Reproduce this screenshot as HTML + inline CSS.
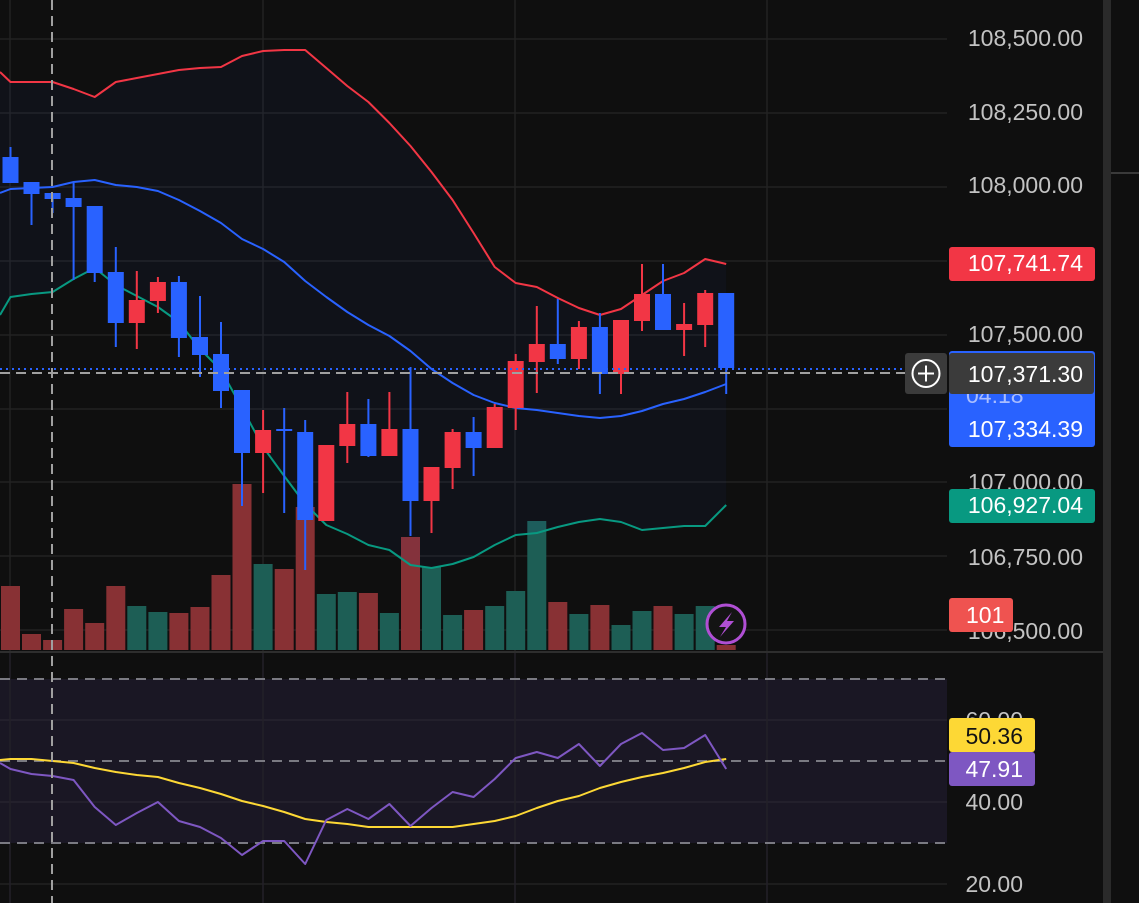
<!DOCTYPE html>
<html><head><meta charset="utf-8"><style>
html,body{margin:0;padding:0;background:#0f0f0f;}
svg{display:block;}
text{font-family:"Liberation Sans",sans-serif;font-size:23px;}
</style></head><body>
<svg width="1139" height="903" viewBox="0 0 1139 903" xmlns="http://www.w3.org/2000/svg">
<rect x="0" y="0" width="1139" height="903" fill="#0f0f0f"/>
<!-- grid main -->
<g stroke="#222" stroke-width="1.5">
<line x1="0" y1="39" x2="947" y2="39"/><line x1="0" y1="113" x2="947" y2="113"/><line x1="0" y1="187" x2="947" y2="187"/><line x1="0" y1="261" x2="947" y2="261"/><line x1="0" y1="335" x2="947" y2="335"/><line x1="0" y1="409" x2="947" y2="409"/><line x1="0" y1="482" x2="947" y2="482"/><line x1="0" y1="556" x2="947" y2="556"/><line x1="0" y1="630" x2="947" y2="630"/>
<line x1="10" y1="0" x2="10" y2="651"/><line x1="263" y1="0" x2="263" y2="651"/><line x1="515" y1="0" x2="515" y2="651"/><line x1="767" y1="0" x2="767" y2="651"/>
</g>
<!-- volume -->
<g>
<rect x="1" y="586" width="19" height="64" fill="#883134"/>
<rect x="22" y="634" width="19" height="16" fill="#883134"/>
<rect x="43.1" y="640" width="19" height="10" fill="#883134"/>
<rect x="64.1" y="609" width="19" height="41" fill="#883134"/>
<rect x="85.2" y="623" width="19" height="27" fill="#883134"/>
<rect x="106.3" y="586" width="19" height="64" fill="#883134"/>
<rect x="127.3" y="606" width="19" height="44" fill="#1d5e55"/>
<rect x="148.4" y="612" width="19" height="38" fill="#1d5e55"/>
<rect x="169.4" y="613" width="19" height="37" fill="#883134"/>
<rect x="190.5" y="607" width="19" height="43" fill="#883134"/>
<rect x="211.5" y="575" width="19" height="75" fill="#883134"/>
<rect x="232.5" y="484" width="19" height="166" fill="#883134"/>
<rect x="253.6" y="564" width="19" height="86" fill="#1d5e55"/>
<rect x="274.7" y="569" width="19" height="81" fill="#883134"/>
<rect x="295.7" y="507" width="19" height="143" fill="#883134"/>
<rect x="316.8" y="594" width="19" height="56" fill="#1d5e55"/>
<rect x="337.8" y="592" width="19" height="58" fill="#1d5e55"/>
<rect x="358.9" y="593" width="19" height="57" fill="#883134"/>
<rect x="379.9" y="613" width="19" height="37" fill="#1d5e55"/>
<rect x="401" y="537" width="19" height="113" fill="#883134"/>
<rect x="422" y="567" width="19" height="83" fill="#1d5e55"/>
<rect x="443.1" y="615" width="19" height="35" fill="#1d5e55"/>
<rect x="464.1" y="610" width="19" height="40" fill="#883134"/>
<rect x="485.2" y="606" width="19" height="44" fill="#1d5e55"/>
<rect x="506.2" y="591" width="19" height="59" fill="#1d5e55"/>
<rect x="527.3" y="521" width="19" height="129" fill="#1d5e55"/>
<rect x="548.3" y="602" width="19" height="48" fill="#883134"/>
<rect x="569.4" y="614" width="19" height="36" fill="#1d5e55"/>
<rect x="590.4" y="605" width="19" height="45" fill="#883134"/>
<rect x="611.5" y="625" width="19" height="25" fill="#1d5e55"/>
<rect x="632.5" y="611" width="19" height="39" fill="#1d5e55"/>
<rect x="653.5" y="606" width="19" height="44" fill="#883134"/>
<rect x="674.6" y="614" width="19" height="36" fill="#1d5e55"/>
<rect x="695.7" y="606" width="19" height="44" fill="#1d5e55"/>
<rect x="716.7" y="645" width="19" height="5" fill="#883134"/>
</g>
<!-- band fill -->
<polygon fill="rgba(41,98,255,0.045)" points="0,72 10.5,82 31.5,82 52.6,82 73.6,89 94.7,97 115.8,82 136.8,78 157.9,74 178.9,70 200,68 221,67 242,56 263.1,51 284.2,50 305.2,50 326.3,68 347.3,86 368.4,102 389.4,123 410.5,146 431.5,172 452.6,200 473.6,233 494.7,267 515.7,283 536.8,287 557.8,298 578.9,308 599.9,315 621,309 642,295 663,281 684.1,273 705.2,259 726.2,264 726.2,505 705.2,526 684.1,526 663,528 642,530 621,522 599.9,519 578.9,522 557.8,527 536.8,533 515.7,535 494.7,545 473.6,557 452.6,564 431.5,568 410.5,565 389.4,550 368.4,545 347.3,534 326.3,525 305.2,504 284.2,476 263.1,447 242,408 221,370 200,349 178.9,322 157.9,307 136.8,296 115.8,285 94.7,268 73.6,279 52.6,292 31.5,294 10.5,297 0,315"/>
<g fill="none" stroke-width="2" stroke-linejoin="round">
<polyline stroke="#f23645" points="0,72 10.5,82 31.5,82 52.6,82 73.6,89 94.7,97 115.8,82 136.8,78 157.9,74 178.9,70 200,68 221,67 242,56 263.1,51 284.2,50 305.2,50 326.3,68 347.3,86 368.4,102 389.4,123 410.5,146 431.5,172 452.6,200 473.6,233 494.7,267 515.7,283 536.8,287 557.8,298 578.9,308 599.9,315 621,309 642,295 663,281 684.1,273 705.2,259 726.2,264"/>
<polyline stroke="#2962ff" points="0,193 10.5,189 31.5,188 52.6,187 73.6,182 94.7,180 115.8,185 136.8,187 157.9,191 178.9,200 200,211 221,223 242,239 263.1,249 284.2,262 305.2,281 326.3,297 347.3,312 368.4,325 389.4,336 410.5,351 431.5,369 452.6,383 473.6,395 494.7,403 515.7,408 536.8,410 557.8,413 578.9,416 599.9,418 621,416 642,411 663,404 684.1,399 705.2,392 726.2,384"/>
<polyline stroke="#089981" points="0,315 10.5,297 31.5,294 52.6,292 73.6,279 94.7,268 115.8,285 136.8,296 157.9,307 178.9,322 200,349 221,370 242,408 263.1,447 284.2,476 305.2,504 326.3,525 347.3,534 368.4,545 389.4,550 410.5,565 431.5,568 452.6,564 473.6,557 494.7,545 515.7,535 536.8,533 557.8,527 578.9,522 599.9,519 621,522 642,530 663,528 684.1,526 705.2,526 726.2,505"/>
</g>
<!-- candles -->
<g fill="#2962ff">
<rect x="9.5" y="147" width="2" height="36"/><rect x="2.5" y="157" width="16" height="26"/>
<rect x="30.5" y="182" width="2" height="43"/><rect x="23.5" y="182" width="16" height="12"/>
<rect x="51.6" y="193" width="2" height="20"/><rect x="44.6" y="193" width="16" height="6"/>
<rect x="72.6" y="183" width="2" height="97"/><rect x="65.6" y="198" width="16" height="9"/>
<rect x="93.7" y="206" width="2" height="76"/><rect x="86.7" y="206" width="16" height="67"/>
<rect x="114.8" y="247" width="2" height="100"/><rect x="107.8" y="272" width="16" height="51"/>
<rect x="177.9" y="276" width="2" height="81"/><rect x="170.9" y="282" width="16" height="56"/>
<rect x="199" y="296" width="2" height="81"/><rect x="192" y="337" width="16" height="18"/>
<rect x="220" y="322" width="2" height="86"/><rect x="213" y="354" width="16" height="37"/>
<rect x="241" y="390" width="2" height="116"/><rect x="234" y="390" width="16" height="63"/>
<rect x="283.2" y="408" width="2" height="105"/><rect x="276.2" y="429" width="16" height="2"/>
<rect x="304.2" y="420" width="2" height="150"/><rect x="297.2" y="432" width="16" height="88"/>
<rect x="367.4" y="399" width="2" height="58"/><rect x="360.4" y="424" width="16" height="32"/>
<rect x="409.5" y="367" width="2" height="169"/><rect x="402.5" y="429" width="16" height="72"/>
<rect x="472.6" y="417" width="2" height="59"/><rect x="465.6" y="432" width="16" height="16"/>
<rect x="556.8" y="299" width="2" height="65"/><rect x="549.8" y="344" width="16" height="15"/>
<rect x="598.9" y="313" width="2" height="81"/><rect x="591.9" y="327" width="16" height="47"/>
<rect x="662" y="264" width="2" height="66"/><rect x="655" y="294" width="16" height="36"/>
<rect x="725.2" y="293" width="2" height="101"/><rect x="718.2" y="293" width="16" height="75"/>
</g>
<g fill="#f23645">
<rect x="135.8" y="271" width="2" height="78"/><rect x="128.8" y="300" width="16" height="23"/>
<rect x="156.9" y="277" width="2" height="36"/><rect x="149.9" y="282" width="16" height="19"/>
<rect x="262.1" y="410" width="2" height="83"/><rect x="255.1" y="430" width="16" height="23"/>
<rect x="318.3" y="445" width="16" height="76"/>
<rect x="346.3" y="392" width="2" height="71"/><rect x="339.3" y="424" width="16" height="22"/>
<rect x="388.4" y="392" width="2" height="64"/><rect x="381.4" y="429" width="16" height="27"/>
<rect x="430.5" y="467" width="2" height="66"/><rect x="423.5" y="467" width="16" height="34"/>
<rect x="451.6" y="429" width="2" height="60"/><rect x="444.6" y="432" width="16" height="36"/>
<rect x="493.7" y="404" width="2" height="44"/><rect x="486.7" y="407" width="16" height="41"/>
<rect x="514.7" y="354" width="2" height="76"/><rect x="507.7" y="361" width="16" height="47"/>
<rect x="535.8" y="306" width="2" height="87"/><rect x="528.8" y="344" width="16" height="18"/>
<rect x="577.9" y="321" width="2" height="48"/><rect x="570.9" y="327" width="16" height="32"/>
<rect x="620" y="320" width="2" height="74"/><rect x="613" y="320" width="16" height="54"/>
<rect x="641" y="264" width="2" height="67"/><rect x="634" y="294" width="16" height="27"/>
<rect x="683.1" y="303" width="2" height="53"/><rect x="676.1" y="324" width="16" height="6"/>
<rect x="704.2" y="290" width="2" height="57"/><rect x="697.2" y="293" width="16" height="32"/>
</g>
<!-- lightning icon -->
<circle cx="726" cy="624" r="19" fill="#141414" stroke="#b04fd4" stroke-width="3"/>
<polygon fill="#b04fd4" points="732,612 719,627 726,627 720,637 734,621 727,621"/>
<!-- price line & crosshair -->
<line x1="0" y1="369" x2="947" y2="369" stroke="#2962ff" stroke-width="2" stroke-dasharray="2 4"/>
<line x1="0" y1="373" x2="905" y2="373" stroke="#a0a0a0" stroke-width="2" stroke-dasharray="10 6"/>
<!-- pane separator -->
<rect x="0" y="651" width="1103" height="2" fill="#2e2e2e"/>
<!-- RSI pane -->
<rect x="0" y="679" width="947" height="164" fill="#1a1724"/>
<g stroke="#26232e" stroke-width="1.5">
<line x1="0" y1="720" x2="947" y2="720"/><line x1="0" y1="802" x2="947" y2="802"/>
</g>
<line x1="0" y1="884" x2="947" y2="884" stroke="#222" stroke-width="1.5"/>
<g stroke="#232028" stroke-width="1.5">
<line x1="10" y1="653" x2="10" y2="903"/><line x1="263" y1="653" x2="263" y2="903"/><line x1="515" y1="653" x2="515" y2="903"/><line x1="767" y1="653" x2="767" y2="903"/>
</g>
<g stroke="#7a7a82" stroke-width="2" stroke-dasharray="10 7">
<line x1="0" y1="679" x2="947" y2="679"/><line x1="0" y1="761" x2="947" y2="761"/><line x1="0" y1="843" x2="947" y2="843"/>
</g>
<g fill="none" stroke-width="2" stroke-linejoin="round">
<polyline stroke="#fdd835" points="0,760 10.5,759 31.5,759 52.6,761 73.6,763 94.7,768 115.8,772 136.8,775 157.9,777 178.9,783 200,788 221,794 242,801 263.1,806 284.2,812 305.2,819 326.3,822 347.3,824 368.4,827 389.4,827 410.5,827 431.5,827 452.6,827 473.6,824 494.7,821 515.7,816 536.8,808 557.8,801 578.9,796 599.9,788 621,782 642,777 663,773 684.1,768 705.2,762 726.2,759"/>
<polyline stroke="#7e57c2" points="0,763 10.5,769 31.5,774 52.6,776 73.6,780 94.7,807 115.8,825 136.8,813 157.9,802 178.9,821 200,827 221,838 242,855 263.1,841 284.2,841 305.2,864 326.3,820 347.3,809 368.4,819 389.4,804 410.5,826 431.5,808 452.6,792 473.6,797 494.7,779 515.7,758 536.8,752 557.8,758 578.9,744 599.9,766 621,744 642,733 663,750 684.1,748 705.2,735 726.2,769"/>
</g>
<!-- vertical crosshair -->
<line x1="52" y1="0" x2="52" y2="903" stroke="#a0a0a0" stroke-width="2" stroke-dasharray="10 6"/>
<!-- price axis labels -->
<g fill="#c3c3c3" text-anchor="end">
<text x="1083" y="46">108,500.00</text>
<text x="1083" y="120">108,250.00</text>
<text x="1083" y="193">108,000.00</text>
<text x="1083" y="342">107,500.00</text>
<text x="1083" y="490">107,000.00</text>
<text x="1083" y="565">106,750.00</text>
<text x="1083" y="639">106,500.00</text>
<text x="1023" y="728">60.00</text>
<text x="1023" y="810">40.00</text>
<text x="1023" y="892">20.00</text>
</g>
<rect x="949" y="247" width="146" height="34" rx="3" fill="#f23645"/>
<text x="1083" y="271" fill="#fff" text-anchor="end">107,741.74</text>
<rect x="949" y="351" width="146" height="96" rx="3" fill="#2962ff"/>
<text x="966" y="403" fill="#a9bdff">04:18</text>
<text x="1083" y="437" fill="#fff" text-anchor="end">107,334.39</text>
<rect x="949" y="353" width="145" height="41" rx="3" fill="#3b3b3b"/>
<text x="1083" y="382" fill="#fff" text-anchor="end">107,371.30</text>
<rect x="905" y="353" width="42" height="41" rx="3" fill="#3b3b3b"/>
<circle cx="926" cy="373.5" r="13.5" fill="none" stroke="#fff" stroke-width="2"/>
<line x1="918" y1="373.5" x2="934" y2="373.5" stroke="#fff" stroke-width="2"/>
<line x1="926" y1="365.5" x2="926" y2="381.5" stroke="#fff" stroke-width="2"/>
<rect x="949" y="489" width="146" height="34" rx="3" fill="#089981"/>
<text x="1083" y="513" fill="#fff" text-anchor="end">106,927.04</text>
<rect x="949" y="598" width="64" height="34" rx="3" fill="#ef5350"/>
<text x="966" y="623" fill="#fff">101</text>
<rect x="949" y="718" width="86" height="34" rx="3" fill="#fdd835"/>
<text x="1023" y="744" fill="#131313" text-anchor="end">50.36</text>
<rect x="949" y="752" width="86" height="34" rx="3" fill="#7e57c2"/>
<text x="1023" y="777" fill="#fff" text-anchor="end">47.91</text>
<!-- right edge -->
<rect x="1103" y="0" width="8" height="903" fill="#2a2a2a"/>
<rect x="1111" y="172" width="28" height="2" fill="#3a3a3a"/>
</svg>
</body></html>
